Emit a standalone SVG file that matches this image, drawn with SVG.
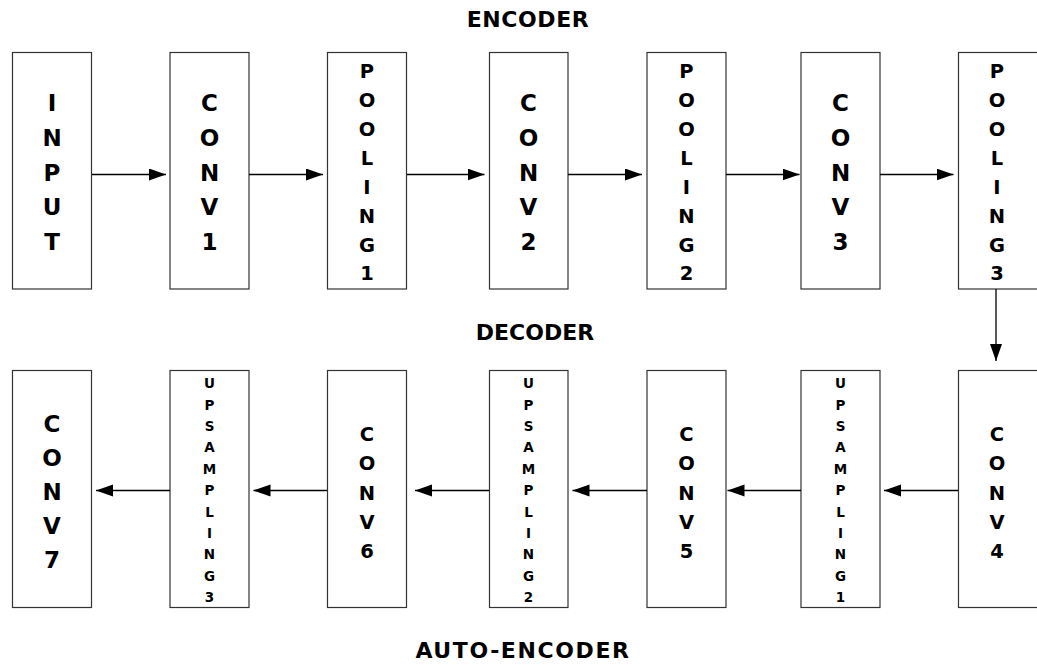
<svg xmlns="http://www.w3.org/2000/svg" width="1037" height="665" viewBox="0 0 1037 665">
  <style>
    .box { fill: #ffffff; stroke: #333333; stroke-width: 1.2; }
    .lbl { font-family: "DejaVu Sans", "Liberation Sans", sans-serif; font-weight: bold; fill: #000000; text-anchor: middle; }
    .big { font-size: 23px; }
    .mid { font-size: 19.5px; }
    .small { font-size: 13.5px; }
    .title { font-size: 22px; }
    .link { stroke: #000000; stroke-width: 1.3; fill: none; marker-end: url(#arrow); }
  </style>
  <defs>
    <marker id="arrow" markerUnits="userSpaceOnUse" markerWidth="18" markerHeight="13" refX="17" refY="6" orient="auto">
      <path d="M0,0 L17,6 L0,12 z" fill="#000000"/>
    </marker>
  </defs>

  <rect width="1037" height="665" fill="#ffffff"/>

  <!-- section titles -->
  <text class="lbl title" x="528" y="26.5" style="letter-spacing:0.6px">ENCODER</text>
  <text class="lbl title" x="535" y="340">DECODER</text>
  <text class="lbl title" x="523" y="658" style="letter-spacing:1.6px">AUTO-ENCODER</text>

  <!-- encoder row -->
  <g id="input">
    <rect class="box" x="12.5" y="52.5" width="79" height="236.5"/>
    <text class="lbl big"><tspan x="52" y="111.4">I</tspan><tspan x="52" y="146">N</tspan><tspan x="52" y="180.6">P</tspan><tspan x="52" y="215.2">U</tspan><tspan x="52" y="249.8">T</tspan></text>
  </g>
  <g id="conv1">
    <rect class="box" x="170" y="52.5" width="79" height="236.5"/>
    <text class="lbl big"><tspan x="209.5" y="111.4">C</tspan><tspan x="209.5" y="146">O</tspan><tspan x="209.5" y="180.6">N</tspan><tspan x="209.5" y="215.2">V</tspan><tspan x="209.5" y="249.8">1</tspan></text>
  </g>
  <g id="pooling1">
    <rect class="box" x="327.5" y="52.5" width="79" height="236.5"/>
    <text class="lbl mid"><tspan x="367" y="78">P</tspan><tspan x="367" y="107">O</tspan><tspan x="367" y="136">O</tspan><tspan x="367" y="165">L</tspan><tspan x="367" y="194">I</tspan><tspan x="367" y="223">N</tspan><tspan x="367" y="252">G</tspan><tspan x="367" y="280">1</tspan></text>
  </g>
  <g id="conv2">
    <rect class="box" x="489.5" y="52.5" width="78.5" height="236.5"/>
    <text class="lbl big"><tspan x="528.5" y="111.4">C</tspan><tspan x="528.5" y="146">O</tspan><tspan x="528.5" y="180.6">N</tspan><tspan x="528.5" y="215.2">V</tspan><tspan x="528.5" y="249.8">2</tspan></text>
  </g>
  <g id="pooling2">
    <rect class="box" x="647" y="52.5" width="79" height="236.5"/>
    <text class="lbl mid"><tspan x="686.5" y="78">P</tspan><tspan x="686.5" y="107">O</tspan><tspan x="686.5" y="136">O</tspan><tspan x="686.5" y="165">L</tspan><tspan x="686.5" y="194">I</tspan><tspan x="686.5" y="223">N</tspan><tspan x="686.5" y="252">G</tspan><tspan x="686.5" y="280">2</tspan></text>
  </g>
  <g id="conv3">
    <rect class="box" x="801" y="52.5" width="79" height="236.5"/>
    <text class="lbl big"><tspan x="840.5" y="111.4">C</tspan><tspan x="840.5" y="146">O</tspan><tspan x="840.5" y="180.6">N</tspan><tspan x="840.5" y="215.2">V</tspan><tspan x="840.5" y="249.8">3</tspan></text>
  </g>
  <g id="pooling3">
    <rect class="box" x="958.5" y="52.5" width="80" height="236.5"/>
    <text class="lbl mid"><tspan x="997" y="78">P</tspan><tspan x="997" y="107">O</tspan><tspan x="997" y="136">O</tspan><tspan x="997" y="165">L</tspan><tspan x="997" y="194">I</tspan><tspan x="997" y="223">N</tspan><tspan x="997" y="252">G</tspan><tspan x="997" y="280">3</tspan></text>
  </g>

  <!-- decoder row -->
  <g id="conv4">
    <rect class="box" x="958.5" y="370.5" width="80" height="237"/>
    <text class="lbl mid"><tspan x="997" y="441">C</tspan><tspan x="997" y="470.3">O</tspan><tspan x="997" y="499.6">N</tspan><tspan x="997" y="528.9">V</tspan><tspan x="997" y="558.2">4</tspan></text>
  </g>
  <g id="upsampling1">
    <rect class="box" x="801" y="370.5" width="79" height="237"/>
    <text class="lbl small"><tspan x="840.5" y="388.2">U</tspan><tspan x="840.5" y="409.6">P</tspan><tspan x="840.5" y="431">S</tspan><tspan x="840.5" y="452.4">A</tspan><tspan x="840.5" y="473.8">M</tspan><tspan x="840.5" y="495.2">P</tspan><tspan x="840.5" y="516.6">L</tspan><tspan x="840.5" y="538">I</tspan><tspan x="840.5" y="559.4">N</tspan><tspan x="840.5" y="580.8">G</tspan><tspan x="840.5" y="602.2">1</tspan></text>
  </g>
  <g id="conv5">
    <rect class="box" x="647" y="370.5" width="79" height="237"/>
    <text class="lbl mid"><tspan x="686.5" y="441">C</tspan><tspan x="686.5" y="470.3">O</tspan><tspan x="686.5" y="499.6">N</tspan><tspan x="686.5" y="528.9">V</tspan><tspan x="686.5" y="558.2">5</tspan></text>
  </g>
  <g id="upsampling2">
    <rect class="box" x="489.5" y="370.5" width="78.5" height="237"/>
    <text class="lbl small"><tspan x="528.5" y="388.2">U</tspan><tspan x="528.5" y="409.6">P</tspan><tspan x="528.5" y="431">S</tspan><tspan x="528.5" y="452.4">A</tspan><tspan x="528.5" y="473.8">M</tspan><tspan x="528.5" y="495.2">P</tspan><tspan x="528.5" y="516.6">L</tspan><tspan x="528.5" y="538">I</tspan><tspan x="528.5" y="559.4">N</tspan><tspan x="528.5" y="580.8">G</tspan><tspan x="528.5" y="602.2">2</tspan></text>
  </g>
  <g id="conv6">
    <rect class="box" x="327.5" y="370.5" width="79" height="237"/>
    <text class="lbl mid"><tspan x="367" y="441">C</tspan><tspan x="367" y="470.3">O</tspan><tspan x="367" y="499.6">N</tspan><tspan x="367" y="528.9">V</tspan><tspan x="367" y="558.2">6</tspan></text>
  </g>
  <g id="upsampling3">
    <rect class="box" x="170" y="370.5" width="79" height="237"/>
    <text class="lbl small"><tspan x="209.5" y="388.2">U</tspan><tspan x="209.5" y="409.6">P</tspan><tspan x="209.5" y="431">S</tspan><tspan x="209.5" y="452.4">A</tspan><tspan x="209.5" y="473.8">M</tspan><tspan x="209.5" y="495.2">P</tspan><tspan x="209.5" y="516.6">L</tspan><tspan x="209.5" y="538">I</tspan><tspan x="209.5" y="559.4">N</tspan><tspan x="209.5" y="580.8">G</tspan><tspan x="209.5" y="602.2">3</tspan></text>
  </g>
  <g id="conv7">
    <rect class="box" x="12.5" y="370.5" width="79" height="237"/>
    <text class="lbl big"><tspan x="52" y="432.4">C</tspan><tspan x="52" y="466.4">O</tspan><tspan x="52" y="500.4">N</tspan><tspan x="52" y="534.4">V</tspan><tspan x="52" y="568.4">7</tspan></text>
  </g>

  <!-- connectors -->
  <g id="connectors">
    <line class="link" x1="92" y1="174.5" x2="166" y2="174.5"/>
    <line class="link" x1="249" y1="174.5" x2="323" y2="174.5"/>
    <line class="link" x1="407" y1="174.5" x2="484.5" y2="174.5"/>
    <line class="link" x1="568" y1="174.5" x2="642" y2="174.5"/>
    <line class="link" x1="726" y1="174.5" x2="799.5" y2="174.5"/>
    <line class="link" x1="880" y1="174.5" x2="953.5" y2="174.5"/>
    <line class="link" x1="996" y1="289" x2="996" y2="361"/>
    <line class="link" x1="958" y1="490.5" x2="884" y2="490.5"/>
    <line class="link" x1="801" y1="490.5" x2="727.5" y2="490.5"/>
    <line class="link" x1="647" y1="490.5" x2="572.5" y2="490.5"/>
    <line class="link" x1="489" y1="490.5" x2="415" y2="490.5"/>
    <line class="link" x1="327" y1="490.5" x2="253.5" y2="490.5"/>
    <line class="link" x1="170" y1="490.5" x2="96" y2="490.5"/>
  </g>
</svg>
